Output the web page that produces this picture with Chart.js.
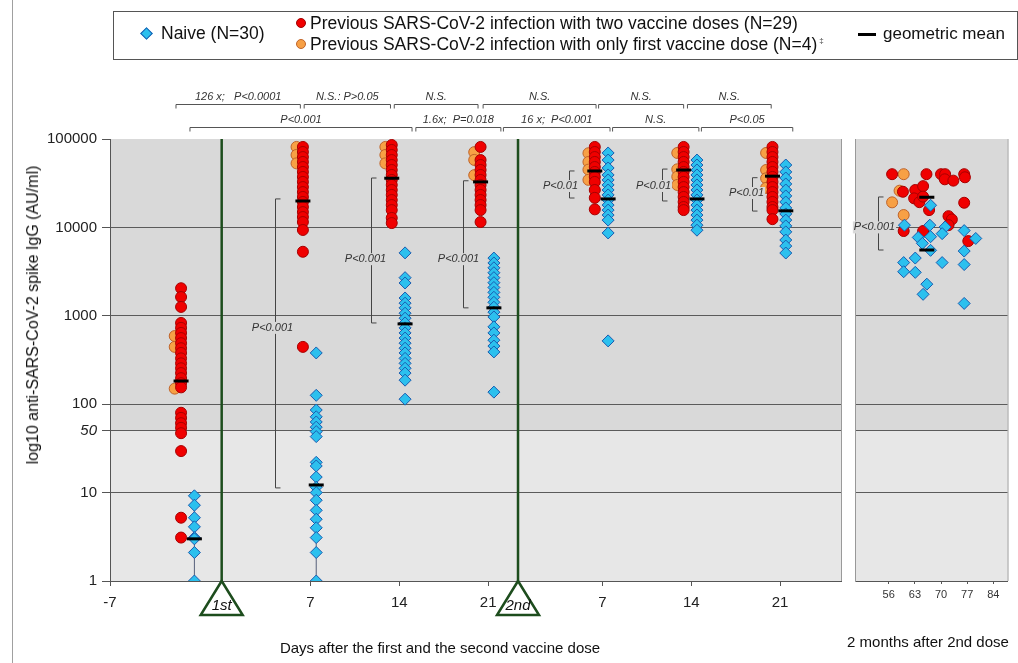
<!DOCTYPE html>
<html>
<head>
<meta charset="utf-8">
<script src="https://cdn.jsdelivr.net/npm/chart.js@4.4.0/dist/chart.umd.min.js"></script>
<style>
  body { margin: 0; background: #fff; font-family: 'Liberation Sans', Arial, sans-serif; }
  #wrap { position: relative; width: 1018px; height: 663px; overflow: hidden; }
  #main { position: absolute; left: 0; top: 0; }
  #late { position: absolute; left: 845px; top: 0; }
  .frame { position: absolute; left: 12px; top: 0; width: 1px; height: 663px; background: #a0a0a0; }
  #legend { position: absolute; left: 113px; top: 11px; width: 903px; height: 47px; border: 1px solid #555; color: #111; font-size: 17.5px; }
  #legend span { position: absolute; white-space: nowrap; line-height: 20px; }
  #legend i { position: absolute; display: block; }
  .dia { width: 7px; height: 7px; background: #2cc0ee; border: 1px solid #1a5cb0; transform: rotate(45deg); }
  .dot { width: 8px; height: 8px; border-radius: 50%; }
  .ttl { position: absolute; white-space: nowrap; font-size: 15px; color: #111; transform: translate(-50%, -50%); }
</style>
</head>
<body>
<div id="wrap">
  <div class="frame"></div>
  <canvas id="main" width="1018" height="663"></canvas>
  <canvas id="late" width="173" height="663"></canvas>
  <div id="legend">
    <i class="dia" style="left:28px; top:17px;"></i>
    <span style="left:47px; top:11px;">Naive (N=30)</span>
    <i class="dot" style="left:182px; top:6px; background:#f00000; border:1px solid #a00000;"></i>
    <span style="left:196px; top:1px;">Previous SARS-CoV-2 infection with two vaccine doses (N=29)</span>
    <i class="dot" style="left:182px; top:27px; background:#f7a045; border:1px solid #c0642a;"></i>
    <span style="left:196px; top:22px;">Previous SARS-CoV-2 infection with only first vaccine dose (N=4)<span style="position:relative; font-size:8px; top:-7px; left:2px; color:#444;">‡</span></span>
    <i style="left:744px; top:21px; width:18px; height:3px; background:#000;"></i>
    <span style="left:769px; top:12px; font-size:17px;">geometric mean</span>
  </div>
  <div class="ttl" style="left:33px; top:315px; font-size:16px; transform: translate(-50%, -50%) rotate(-90deg);">log10 anti-SARS-CoV-2 spike IgG (AU/ml)</div>
  <div class="ttl" style="left:440px; top:647px;">Days after the first and the second vaccine dose</div>
  <div class="ttl" style="left:928px; top:641px;">2 months after 2nd dose</div>
</div>
<script>
Chart.defaults.font.family = "'Liberation Sans', Arial, sans-serif";

// ---- data ----
const yTicks = [1, 10, 50, 100, 1000, 10000, 100000];
const mainTickPos = [-8.8, 7, 14, 21, 30, 37, 44];
const mainTickLabels = ['-7', '7', '14', '21', '7', '14', '21'];
const doseDays = [0, 23.35];
const doseLabels = ['1st', '2nd'];

// timepoints: before, 7/14/21 d after 1st dose, 7/14/21 d after 2nd dose
const timepointX = [-2.6, 7, 14, 21, 30, 37, 44];

const prevTwoDoses = [
  [2050, 1630, 1260, 830, 730, 640, 560, 490, 430, 380, 330, 290, 255, 225, 197, 173, 155, 80, 70, 61, 54, 47, 29.5, 5.2, 3.1],
  [81300, 71300, 62500, 55000, 48200, 42400, 37200, 32700, 28600, 25100, 22100, 19400, 17000, 14900, 13100, 11500, 9350, 5300, 445],
  [85500, 75200, 65900, 57800, 50800, 44600, 39200, 34400, 30200, 26500, 23300, 20400, 17900, 15700, 12800, 11200],
  [81300, 57800, 50800, 44600, 39200, 34400, 30200, 26500, 23300, 20400, 17900, 15700, 11500],
  [81300, 71300, 62500, 55000, 48200, 42400, 37200, 32700, 26500, 21600, 16000],
  [81300, 71300, 62500, 55000, 48200, 42400, 37200, 32700, 28600, 25100, 22100, 19400, 17000, 15700],
  [81300, 71300, 62500, 55000, 48200, 42400, 37200, 32700, 28600, 25100, 22100, 19400, 17000, 15700, 12400]
];
const prevOneDose = [
  [590, 445, 150],
  [81300, 66000, 53000],
  [81300, 66000, 53000],
  [71000, 58000, 39000],
  [69000, 55000, 45000, 34500],
  [69500, 45400, 37500, 30200],
  [69500, 44600, 35900, 28000]
];
const naive = [
  [9.2, 7.2, 5.2, 4.1, 3.1, 3, 2.1, 1],
  [380, 126, 86, 72, 63, 55, 49, 43, 22, 20, 15, 11.5, 10, 8.2, 6.3, 5, 4, 3.1, 2.1, 1],
  [5150, 2700, 2350, 1590, 1390, 1230, 1070, 940, 830, 730, 640, 560, 490, 430, 380, 330, 290, 255, 225, 187, 114],
  [4500, 3960, 3490, 3070, 2700, 2370, 2090, 1840, 1620, 1420, 1250, 1100, 970, 750, 640, 530, 455, 390, 137],
  [69500, 57800, 47000, 39200, 34400, 30200, 26500, 23300, 20400, 17900, 15700, 13800, 12100, 8650, 520],
  [57800, 50800, 44600, 39200, 34400, 30200, 26500, 23300, 20400, 17900, 15700, 13800, 12100, 10600, 9300],
  [50800, 42400, 36200, 31000, 26500, 22700, 19400, 16600, 14200, 12100, 10400, 8900, 7200, 6150, 5130]
];
const naiveWhiskers = [[0, 1, 9.2], [1, 1, 22]]; // [timepoint, low, high]
const gmPrevious = [183, 19900, 36000, 32700, 43500, 44600, 38000];
const gmNaive = [3, 12.2, 810, 1230, 21000, 21000, 15400];

// 2 months after 2nd dose: [day, value]
const lateTwoDoses = [
  [56.9, 40000], [66.1, 40000], [70.0, 40000], [71.1, 40000], [71.0, 35000], [73.3, 33800],
  [76.2, 40000], [76.4, 36900], [59.8, 25300], [63.1, 26500], [65.2, 29300], [62.8, 21300],
  [64.2, 19300], [65.2, 22300], [66.8, 15700], [76.2, 19000], [72.0, 13400], [72.9, 12300],
  [72.0, 10600], [60.0, 9100], [65.2, 9100], [77.3, 7000]
];
const lateOneDose = [[60.0, 40000], [58.9, 26000], [56.9, 19200], [60.0, 13800]];
const lateNaive = [
  [67.2, 17800], [60.2, 10600], [67.0, 10600], [71.1, 10100], [70.3, 8500], [76.2, 9200],
  [63.9, 7700], [67.2, 7850], [65.0, 6600], [79.3, 7500], [67.2, 5500], [76.2, 5400],
  [63.1, 4500], [60.0, 4000], [70.3, 4000], [76.2, 3800], [60.0, 3150], [63.1, 3100],
  [66.2, 2280], [65.2, 1750], [76.2, 1380]
];
const lateGm = [[66.2, 21900], [66.2, 5560]]; // previous, naive
const lateTicks = [56, 63, 70, 77, 84];

// comparisons
const topBrackets = [
  { row: 0, from: -3.6, to: 6.2, text: '126 x;   P<0.0001' },
  { row: 0, from: 6.5, to: 13.3, text: 'N.S.: P>0.05' },
  { row: 0, from: 13.6, to: 20.2, text: 'N.S.' },
  { row: 0, from: 20.6, to: 29.5, text: 'N.S.' },
  { row: 0, from: 29.7, to: 36.4, text: 'N.S.' },
  { row: 0, from: 36.7, to: 43.3, text: 'N.S.' },
  { row: 1, from: -2.5, to: 15.0, text: 'P<0.001' },
  { row: 1, from: 15.3, to: 22.0, text: '1.6x;  P=0.018' },
  { row: 1, from: 22.2, to: 30.6, text: '16 x;  P<0.001' },
  { row: 1, from: 30.8, to: 37.6, text: 'N.S.' },
  { row: 1, from: 37.8, to: 45.0, text: 'P<0.05' }
];
const pairBrackets = [
  { x: 4.17, hi: 21000, lo: 11.3, text: 'P<0.001', at: 730, dx: -3 },
  { x: 11.8, hi: 36200, lo: 830, text: 'P<0.001', at: 4370, dx: -6 },
  { x: 19.03, hi: 33700, lo: 1230, text: 'P<0.001', at: 4370, dx: -5 },
  { x: 27.37, hi: 43500, lo: 21500, text: 'P<0.01', at: 29400, dx: -9 },
  { x: 34.7, hi: 45700, lo: 19900, text: 'P<0.01', at: 29400, dx: -9 },
  { x: 41.8, hi: 36500, lo: 15300, text: 'P<0.01', at: 24500, dx: -6 }
];
const latePair = { x: 53.1, hi: 22100, lo: 5550, text: 'P<0.001', at: 10000, dx: -4 };

// ---- styling ----
const DARK = '#d9d9d9', LIGHT = '#e7e7e7', GRID = '#5b5b5b', GREEN = '#1d4d1d';
const RED_DX = -0.6, ORANGE_DX = -1.1, BLUE_DX = 0.45;
const redStyle = { pointStyle: 'circle', pointRadius: 5.5, backgroundColor: '#f00000', borderColor: '#a80000', borderWidth: 1 };
const orangeStyle = { pointStyle: 'circle', pointRadius: 5.5, backgroundColor: '#f7a045', borderColor: '#c0642a', borderWidth: 1 };
const blueStyle = { pointStyle: 'rectRot', pointRadius: 6, backgroundColor: '#2cc0ee', borderColor: '#1a5cb0', borderWidth: 1 };
const gmStyle = { pointStyle: 'line', pointRadius: 7.5, borderColor: '#000', borderWidth: 3 };

function spread(groups, dx) {
  return groups.flatMap((vals, i) => vals.map(v => ({ x: timepointX[i] + dx, y: v })));
}

function italic(ctx, text, x, y, bg) {
  ctx.font = 'italic 11px "Liberation Sans", Arial, sans-serif';
  ctx.textAlign = 'center';
  ctx.textBaseline = 'middle';
  if (bg) {
    const w = ctx.measureText(text).width;
    ctx.fillStyle = bg;
    ctx.fillRect(x - w / 2 - 1, y - 6, w + 2, 12);
  }
  ctx.fillStyle = '#333';
  ctx.fillText(text, x, y);
}

function drawPair(chart, b) {
  const { ctx, scales: { x, y } } = chart;
  const px = Math.round(x.getPixelForValue(b.x)) + 0.5;
  const top = y.getPixelForValue(b.hi), bot = y.getPixelForValue(b.lo);
  ctx.save();
  ctx.strokeStyle = '#444';
  ctx.lineWidth = 1;
  ctx.beginPath();
  ctx.moveTo(px + 5, top); ctx.lineTo(px, top); ctx.lineTo(px, bot); ctx.lineTo(px + 5, bot);
  ctx.stroke();
  italic(ctx, b.text, px + b.dx, y.getPixelForValue(b.at), b.at >= 50 ? DARK : LIGHT);
  ctx.restore();
}

const panelBackground = {
  id: 'panelBackground',
  beforeDraw(chart) {
    const { ctx, chartArea: a, scales: { y } } = chart;
    const y50 = y.getPixelForValue(50);
    ctx.save();
    ctx.fillStyle = DARK;
    ctx.fillRect(a.left, a.top, a.width, y50 - a.top);
    ctx.fillStyle = LIGHT;
    ctx.fillRect(a.left, y50, a.width, a.bottom - y50);
    ctx.strokeStyle = '#9a9a9a';
    ctx.beginPath();
    ctx.moveTo(a.right + 0.5, a.top); ctx.lineTo(a.right + 0.5, a.bottom);
    ctx.stroke();
    ctx.restore();
  }
};

const mainAnnotations = {
  id: 'mainAnnotations',
  beforeDatasetsDraw(chart) {
    const { ctx, chartArea: a, scales: { x } } = chart;
    ctx.save();
    ctx.strokeStyle = GREEN;
    ctx.lineWidth = 2.5;
    doseDays.forEach(d => {
      const px = x.getPixelForValue(d);
      ctx.beginPath(); ctx.moveTo(px, a.top); ctx.lineTo(px, a.bottom); ctx.stroke();
    });
    ctx.restore();
  },
  afterDraw(chart) {
    const { ctx, chartArea: a, scales: { x } } = chart;
    pairBrackets.forEach(b => drawPair(chart, b));
    ctx.save();
    ctx.strokeStyle = '#555';
    ctx.lineWidth = 1;
    topBrackets.forEach(b => {
      const ly = Math.round(a.top - (b.row === 0 ? 35 : 12)) + 0.5;
      const x1 = x.getPixelForValue(b.from), x2 = x.getPixelForValue(b.to);
      ctx.beginPath();
      ctx.moveTo(x1, ly + 4); ctx.lineTo(x1, ly); ctx.lineTo(x2, ly); ctx.lineTo(x2, ly + 4);
      ctx.stroke();
      italic(ctx, b.text, (x1 + x2) / 2, ly - 8);
    });
    doseDays.forEach((d, i) => {
      const px = x.getPixelForValue(d);
      ctx.beginPath();
      ctx.moveTo(px, a.bottom);
      ctx.lineTo(px - 21, a.bottom + 34);
      ctx.lineTo(px + 21, a.bottom + 34);
      ctx.closePath();
      ctx.fillStyle = '#fff';
      ctx.fill();
      ctx.strokeStyle = GREEN;
      ctx.lineWidth = 2.5;
      ctx.stroke();
      ctx.font = 'italic 15px "Liberation Sans", Arial, sans-serif';
      ctx.fillStyle = '#111';
      ctx.textAlign = 'center';
      ctx.textBaseline = 'middle';
      ctx.fillText(doseLabels[i], px, a.bottom + 25);
    });
    ctx.restore();
  }
};

const lateAnnotations = {
  id: 'lateAnnotations',
  afterDatasetsDraw(chart) { drawPair(chart, latePair); }
};

const yGridColor = c => (c.tick && (c.tick.value === 1 || c.tick.value === 100000)) ? 'rgba(0,0,0,0)' : GRID;

const mainDatasets = [
  Object.assign({ data: spread(prevOneDose, ORANGE_DX), order: 4 }, orangeStyle),
  Object.assign({ data: spread(prevTwoDoses, RED_DX), order: 3 }, redStyle),
  ...naiveWhiskers.map(w => ({
    data: [{ x: timepointX[w[0]] + BLUE_DX, y: w[1] }, { x: timepointX[w[0]] + BLUE_DX, y: w[2] }],
    showLine: true, pointRadius: 0, borderColor: '#56607a', borderWidth: 1, order: 5
  })),
  Object.assign({ data: spread(naive, BLUE_DX), order: 2 }, blueStyle),
  Object.assign({
    data: gmPrevious.map((v, i) => ({ x: timepointX[i] + RED_DX, y: v }))
      .concat(gmNaive.map((v, i) => ({ x: timepointX[i] + BLUE_DX, y: v }))),
    order: 0
  }, gmStyle)
];

new Chart(document.getElementById('main'), {
  type: 'scatter',
  data: { datasets: mainDatasets },
  options: {
    responsive: false,
    animation: false,
    layout: { padding: { top: 139, right: 177, left: 0, bottom: 0 } },
    plugins: { legend: { display: false }, tooltip: { enabled: false } },
    scales: {
      x: {
        type: 'linear', min: -8.8, max: 48.8,
        afterBuildTicks: s => { s.ticks = mainTickPos.map(v => ({ value: v })); },
        afterFit: s => { s.height = 82; },
        ticks: { callback: (v, i) => mainTickLabels[i], autoSkip: false, maxRotation: 0, padding: 8, color: '#222', font: { size: 15 } },
        grid: { drawOnChartArea: false, tickLength: 5, tickColor: '#555' },
        border: { color: '#555' }
      },
      y: {
        type: 'logarithmic', min: 1, max: 100000,
        afterBuildTicks: s => { s.ticks = yTicks.map(v => ({ value: v })); },
        afterFit: s => { s.width = 110; },
        ticks: {
          callback: v => String(v), padding: 5, color: '#222',
          font: c => ({ size: 15, style: c.tick && c.tick.value === 50 ? 'italic' : 'normal' })
        },
        grid: { color: yGridColor, tickColor: '#555', tickLength: 8 },
        border: { color: '#555' }
      }
    }
  },
  plugins: [panelBackground, mainAnnotations]
});

const pts = arr => arr.map(p => ({ x: p[0], y: p[1] }));

new Chart(document.getElementById('late'), {
  type: 'scatter',
  data: {
    datasets: [
      Object.assign({ data: pts(lateOneDose), order: 3 }, orangeStyle),
      Object.assign({ data: pts(lateTwoDoses), order: 2 }, redStyle),
      Object.assign({ data: pts(lateNaive), order: 1 }, blueStyle),
      Object.assign({ data: pts(lateGm), order: 0 }, gmStyle)
    ]
  },
  options: {
    responsive: false,
    animation: false,
    layout: { padding: { top: 139, right: 8, left: 0, bottom: 0 } },
    plugins: { legend: { display: false }, tooltip: { enabled: false } },
    scales: {
      x: {
        type: 'linear', min: 47.1, max: 87.8,
        afterBuildTicks: s => { s.ticks = lateTicks.map(v => ({ value: v })); },
        afterFit: s => { s.height = 82; },
        ticks: { autoSkip: false, maxRotation: 0, padding: 4, color: '#333', font: { size: 11 } },
        grid: { drawOnChartArea: false, tickLength: 3, tickColor: '#555' },
        border: { color: '#555' }
      },
      y: {
        type: 'logarithmic', min: 1, max: 100000,
        afterBuildTicks: s => { s.ticks = yTicks.map(v => ({ value: v })); },
        afterFit: s => { s.width = 9; },
        ticks: { display: false },
        grid: { color: yGridColor, drawTicks: false },
        border: { color: '#999' }
      }
    }
  },
  plugins: [panelBackground, lateAnnotations]
});
</script>
</body>
</html>
